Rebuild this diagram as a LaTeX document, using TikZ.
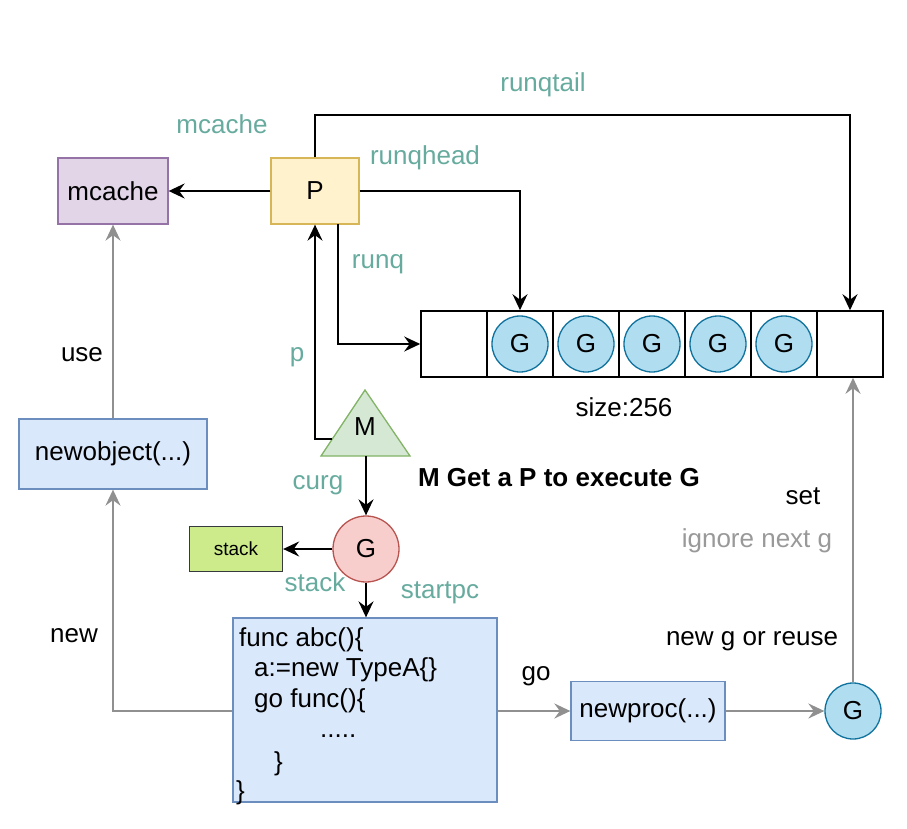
\documentclass[tikz,border=0pt]{standalone}
\usepackage{fontspec}
\setmainfont{Liberation Sans}
\usetikzlibrary{arrows.meta}
\definecolor{teal1}{HTML}{67AB9F}
\definecolor{graytxt}{HTML}{999999}
\definecolor{grayln}{HTML}{909090}
\definecolor{mfill}{HTML}{E1D5E7}\definecolor{mdraw}{HTML}{9673A6}
\definecolor{pfill}{HTML}{FFF2CC}\definecolor{pdraw}{HTML}{D6B656}
\definecolor{bfill}{HTML}{DAE8FC}\definecolor{bdraw}{HTML}{6C8EBF}
\definecolor{gfill}{HTML}{B1DDF0}\definecolor{gdraw}{HTML}{10739E}
\definecolor{rfill}{HTML}{F8CECC}\definecolor{rdraw}{HTML}{B85450}
\definecolor{trfill}{HTML}{D5E8D4}\definecolor{trdraw}{HTML}{82B366}
\definecolor{sfill}{HTML}{CDEB8B}\definecolor{sdraw}{HTML}{36393D}
\tikzset{
  txt/.style={font=\fontsize{26}{31}\selectfont, inner sep=0pt},
  lbl/.style={txt, text=teal1},
  box/.style={draw, line width=1.3pt, minimum width=#1, inner sep=0pt, txt},
  cell/.style={draw=black, line width=1.6pt, minimum width=66pt, minimum height=66pt, inner sep=0pt},
  gq/.style={circle, draw=gdraw, fill=gfill, line width=1.3pt, minimum size=56pt, inner sep=0pt, txt},
  blk/.style={line width=1.7pt, black, -{Stealth[length=16pt,width=15pt,inset=5.5pt]}},
  gry/.style={line width=1.7pt, grayln, -{Stealth[length=16pt,width=15pt,inset=5.5pt]}},
}
\begin{document}
\begin{tikzpicture}[x=1pt,y=-1pt]
\useasboundingbox (0,0) rectangle (907,829);
\fill[white] (0,0) rectangle (907,829);

% boxes
\node[box=110pt, minimum height=66pt, fill=mfill, draw=mdraw] (mcache) at (113,191) {mcache};
\node[box=88pt, minimum height=66pt, fill=pfill, draw=pdraw] (P) at (315,191) {P};
\node[box=188pt, minimum height=70pt, fill=bfill, draw=bdraw] (newobj) at (113,454) {newobject(...)};
\node[box=154pt, minimum height=59pt, fill=bfill, draw=bdraw] (newproc) at (648,711) {newproc(...)};
\node[box=264pt, minimum height=184pt, fill=bfill, draw=bdraw] (func) at (365,710) {};
\node[box=93pt, minimum height=45pt, fill=sfill, draw=sdraw, font=\fontsize{19}{22}\selectfont] (stack) at (236,549) {stack};

% code text
\node[txt, anchor=base west] (c1) at (239,646) {func abc()\{};
\node[txt, anchor=base west] (c2) at (254,676) {a:=new TypeA\{\}};
\node[txt, anchor=base west] (c3) at (254,707) {go func()\{};
\node[txt, anchor=base west] (c4) at (320,737) {.....};
\node[txt, anchor=base west] (c5) at (274,770) {\}};
\node[txt, anchor=base west] (c6) at (236,799) {\}};

% queue
\foreach \i in {0,...,6}{
  \node[cell] (q\i) at (454+66*\i,344) {};
}
\foreach \i in {1,...,5}{
  \node[gq] (g\i) at (q\i.center) {G};
}
\node[txt] (size) at (624,407) {size:256};

% M triangle
\coordinate (tl) at (321,456);
\coordinate (tt) at (365,390);
\coordinate (tr) at (410,456);
\draw[line width=1.3pt, draw=trdraw, fill=trfill] (tl) -- (tt) -- (tr) -- cycle;
\node[txt] (M) at (365,427) {M};
\coordinate (Mbot) at (366,456);
\coordinate (Mleft) at (332,439);

% G circles
\node[circle, draw=rdraw, fill=rfill, line width=1.3pt, minimum size=66pt, inner sep=0pt, txt] (Gr) at (366,549) {G};
\node[gq] (Gn) at (853,711) {G};

% black connectors
\draw[blk] (P.west) -- (mcache.east);
\draw[blk] (P.north) -- (315,115) -| (q6.north);
\draw[blk] (P.east) -| (q1.north);
\draw[blk] (338,224) |- (q0.west);
\draw[blk] (Mleft) -| (P.south);
\draw[blk] (Mbot) -- (Gr.north);
\draw[blk] (Gr.west) -- (stack.east);
\draw[blk] (Gr.south) -- (Gr.south |- func.north);

% gray connectors
\draw[gry] (func.west |- 0,711) -| (newobj.south);
\draw[gry] (newobj.north) -- (mcache.south);
\draw[gry] (func.east |- 0,711) -- (newproc.west);
\draw[gry] (newproc.east) -- (Gn.west);
\draw[gry] (Gn.north) -- (Gn.north |- q6.south);

% labels
\node[lbl] (l1) at (222,124) {mcache};
\node[lbl] (l2) at (543,85) {runqtail};
\node[lbl] (l3) at (425,158) {runqhead};
\node[lbl] (l4) at (378,264) {runq};
\node[lbl] (l5) at (297,357) {p};
\node[lbl] (l6) at (318,485) {curg};
\node[lbl] (l7) at (315,582) {stack};
\node[lbl] (l8) at (440,593) {startpc};
\node[txt] (l9) at (82,355) {use};
\node[txt] (l10) at (74,636) {new};
\node[txt] (l11) at (536,676) {go};
\node[txt] (l12) at (752,641) {new g or reuse};
\node[txt] (l13) at (803,496) {set};
\node[txt, text=graytxt] (l14) at (757,541) {ignore next g};
\node[txt, font=\fontsize{26}{31}\selectfont\bfseries] (l15) at (559,478) {M Get a P to execute G};
\end{tikzpicture}
\end{document}
